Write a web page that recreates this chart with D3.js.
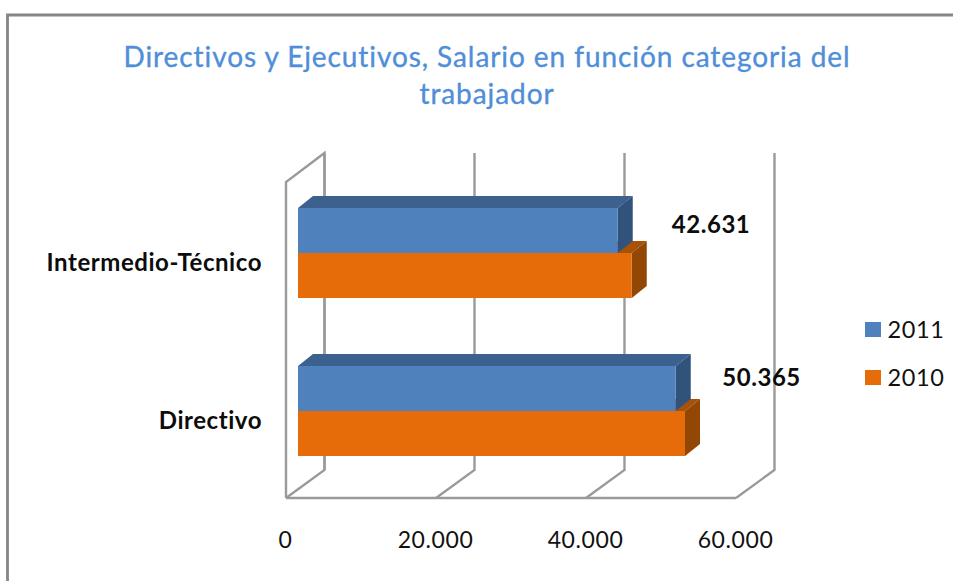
<!DOCTYPE html>
<html><head><meta charset="utf-8">
<script src="https://cdn.jsdelivr.net/npm/d3@7/dist/d3.min.js"></script>
<style>html,body{margin:0;padding:0;background:#fff}svg{display:block}text{font-family:Lato,"Open Sans",sans-serif}</style>
</head><body><svg id="c" width="953" height="581"></svg>
<script>
const titleLines = ["Directivos y Ejecutivos, Salario en función categoria del","trabajador"];
const categories = ["Intermedio-Técnico","Directivo"];
const seriesNames = ["2011","2010"];
const values2011 = [42631,50365];
const values2010 = [44500,51600];
const dataLabels = ["42.631","50.365"];
const ticks = [0,20000,40000,60000];

const svg = d3.select("#c");
const W=953,H=581;
const colors={ "2011":{front:"#4f81bd",top:"#3c618f",side:"#31527b"}, "2010":{front:"#e66c09",top:"#a85207",side:"#924705"} };
const gridC="#9a9a9a";
// chart frame
svg.append("path").attr("d",`M7.5,${H} V15 H${W}`).attr("fill","none").attr("stroke","#868686").attr("stroke-width",2.8);

const fmt=d3.formatLocale({decimal:",",thousands:".",grouping:[3],currency:["","€"]}).format(",d");
const dx=15,dy=12;            // bar depth
const wallDx=38.5,wallDy=28;  // wall depth
const x0=286,x1=736,floorY=498,wallTop=182;
const x=d3.scaleLinear().domain([0,60000]).range([x0,x1]);
const barOffset=12;
const y=d3.scaleBand().domain(categories).range([208,456]).paddingInner(68/158);
const ySeries=d3.scaleBand().domain(seriesNames).range([0,y.bandwidth()]);

// walls and grid
const g=svg.append("g").attr("fill","none").attr("stroke",gridC).attr("stroke-width",2.4);
g.append("path").attr("d",`M${x0},${floorY} V${wallTop} L${x0+wallDx},${wallTop-wallDy-1} V${floorY-wallDy}`);
g.append("path").attr("d",`M${x0},${floorY} H${x1}`).attr("stroke-width",2.6);
ticks.forEach(t=>{
  const px=x(t);
  g.append("path").attr("d",`M${px},${floorY} L${px+wallDx},${floorY-wallDy} V${wallTop-wallDy-1}`);
});

// bars: back series first so the blue box overlaps the orange top face
function bar(cat,val,name){
  const c=colors[name];
  const l=x(0)+barOffset, r=x(val)+barOffset, t=y(cat)+ySeries(name), b=t+ySeries.bandwidth();
  const gb=svg.append("g").attr("class","bar");
  gb.append("path").attr("d",`M${l},${t} L${l+dx},${t-dy} H${r+dx} L${r},${t} Z`).attr("fill",c.top);
  gb.append("path").attr("d",`M${r},${t} L${r+dx},${t-dy} V${b-dy} L${r},${b} Z`).attr("fill",c.side);
  gb.append("rect").attr("x",l).attr("y",t).attr("width",r-l).attr("height",b-t).attr("fill",c.front);
}
categories.forEach((cat,i)=>{
  bar(cat,values2010[i],"2010");
  bar(cat,values2011[i],"2011");
});

// title
svg.append("g").selectAll("text").data(titleLines).join("text")
  .attr("x",487).attr("y",(d,i)=>67+i*37).attr("text-anchor","middle")
  .attr("font-size",28).attr("letter-spacing",.92).attr("fill","#4f8ed8")
  .attr("stroke","#4f8ed8").attr("stroke-width",.35).text(d=>d);

// category labels
svg.append("g").selectAll("text").data(categories).join("text")
  .attr("x",262).attr("y",d=>y(d)+63).attr("text-anchor","end")
  .attr("font-size",24).attr("font-weight",700).attr("letter-spacing",.55).attr("fill","#0c0c0c").text(d=>d);

// data labels (placed by hand in the original)
const labelNudge=[105.3,97.8];
svg.append("g").selectAll("text").data(dataLabels).join("text")
  .attr("x",(d,i)=>x(values2011[i])+labelNudge[i]).attr("y",(d,i)=>y(categories[i])+25+(i?-5:0)).attr("text-anchor","middle")
  .attr("font-size",24).attr("font-weight",700).attr("letter-spacing",.55).attr("fill","#0c0c0c").text(d=>d);

// axis
const ax=svg.append("g").attr("transform",`translate(-1,${floorY})`)
  .call(d3.axisBottom(x).tickValues(ticks).tickFormat(d=>d===0?"0":fmt(d)).tickSize(0).tickPadding(34));
ax.select(".domain").remove();
ax.selectAll("text").attr("font-family","Lato").attr("font-size",23).attr("letter-spacing",.6).attr("fill","#111").attr("dy","0.71em");

// legend
const lg=svg.append("g").selectAll("g").data(seriesNames).join("g")
  .attr("transform",(d,i)=>`translate(865,${322+i*48})`);
lg.append("rect").attr("width",16).attr("height",15).attr("fill",d=>colors[d].front);
lg.append("text").attr("x",22.5).attr("y",15.5).attr("font-size",23.5).attr("letter-spacing",.6).attr("fill","#111").text(d=>d);
</script></body></html>
